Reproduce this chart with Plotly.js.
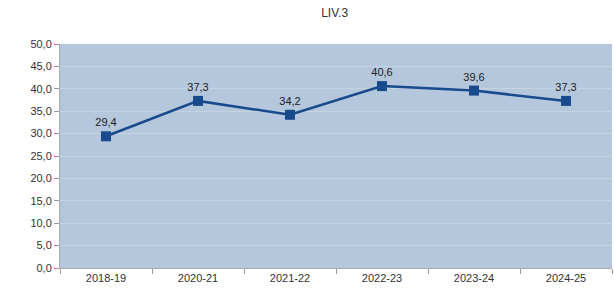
<!DOCTYPE html>
<html><head><meta charset="utf-8">
<script src="https://cdn.plot.ly/plotly-3.0.1.min.js"></script>
<style>html,body{margin:0;padding:0;background:#fff}#c{width:614px;height:293px}</style>
</head><body><div id="c"></div>
<script>
const categories = ["2018-19","2020-21","2021-22","2022-23","2023-24","2024-25"];
const values = [29.4, 37.3, 34.2, 40.6, 39.6, 37.3];
const labels = ["29,4","37,3","34,2","40,6","39,6","37,3"];
const yTicks = [0,5,10,15,20,25,30,35,40,45,50];

Plotly.newPlot('c', [{
  x: categories, y: values, type: 'scatter', mode: 'lines+markers+text',
  text: labels, textposition: 'top center',
  textfont: {family: 'Liberation Sans, Arial', size: 11, color: '#222'},
  line: {color: '#184a8c', width: 2.5},
  marker: {symbol: 'square', size: 10, color: '#184a8c'},
  cliponaxis: false, hoverinfo: 'none'
}], {
  width: 614, height: 293,
  margin: {l: 60, r: 2, t: 44, b: 25},
  paper_bgcolor: '#ffffff', plot_bgcolor: '#b4c7dc',
  separators: ', ',
  font: {family: 'Liberation Sans, Arial', size: 11, color: '#333'},
  title: {text: 'LIV.3', x: 0.545, xanchor: 'center', y: 0.955, yanchor: 'middle',
          font: {family: 'Liberation Sans, Arial', size: 12, color: '#333'}},
  showlegend: false,
  xaxis: {type: 'category', showgrid: false, ticks: 'outside', ticklen: 5, tickcolor: '#999',
          showline: true, linecolor: '#aaa', zeroline: false,
          tickfont: {size: 11, color: '#333'}, range: [-0.5, 5.5],
          tickson: 'boundaries'},
  yaxis: {range: [0, 50], tickvals: yTicks, tickformat: '.1f', ticks: 'outside', ticklen: 5,
          tickcolor: '#999', showline: true, linecolor: '#aaa', gridcolor: '#c6d3e1',
          gridwidth: 1, zeroline: false, tickfont: {size: 11, color: '#333'}}
}, {staticPlot: true});
</script></body></html>
